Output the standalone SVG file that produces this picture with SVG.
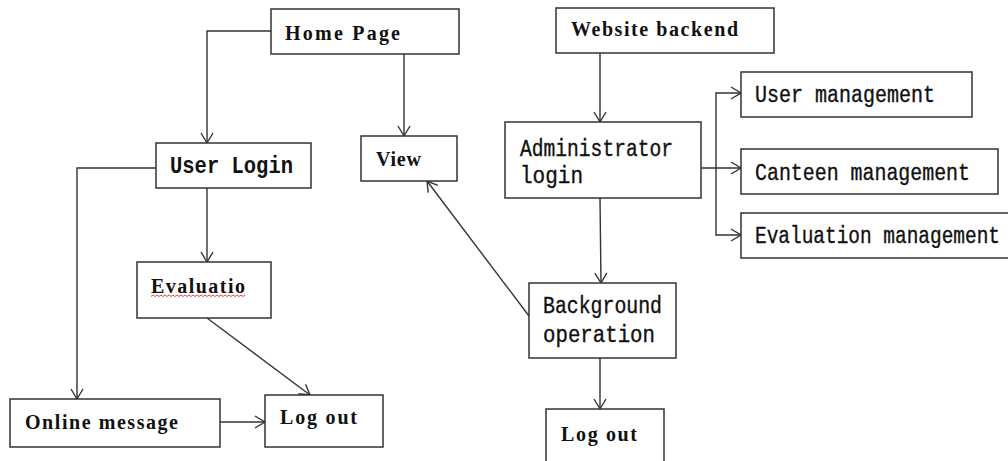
<svg xmlns="http://www.w3.org/2000/svg" width="1008" height="461" viewBox="0 0 1008 461">
<style>
.box{fill:#fff;stroke:#333;stroke-width:1.5}
.ser{font-family:"Liberation Serif","Times New Roman",serif;font-weight:bold;font-size:20px;fill:#111}
.mono{font-family:"Liberation Mono","Courier New",monospace;font-size:23px;fill:#111;stroke:#111;stroke-width:0.35}
.b{font-weight:bold;stroke-width:0}
.con path{fill:none;stroke:#333;stroke-width:1.4}
</style>
<defs>
<marker id="arr" markerUnits="userSpaceOnUse" markerWidth="14" markerHeight="14" viewBox="-11 -7 12 14" refX="0" refY="0" orient="auto">
<path d="M-10,-6 L0,0 L-10,6" fill="none" stroke="#333" stroke-width="1.4"/>
</marker>
</defs>
<rect width="1008" height="461" fill="#fff"/>
<g class="con">
<path d="M271,31 H207 V143" marker-end="url(#arr)"/>
<path d="M404,54 V136" marker-end="url(#arr)"/>
<path d="M156,168 H77 V399" marker-end="url(#arr)"/>
<path d="M207,188 V262" marker-end="url(#arr)"/>
<path d="M207,318 L310,395" marker-end="url(#arr)"/>
<path d="M220,422 H265" marker-end="url(#arr)"/>
<path d="M600,53 V122" marker-end="url(#arr)"/>
<path d="M701,168 H741" marker-end="url(#arr)"/>
<path d="M716,168 V93 H741" marker-end="url(#arr)"/>
<path d="M716,168 V235 H741" marker-end="url(#arr)"/>
<path d="M600,198 L601,283" marker-end="url(#arr)"/>
<path d="M529,316 L427,181" marker-end="url(#arr)"/>
<path d="M600,358 V409" marker-end="url(#arr)"/>
</g>
<g id="home">
<rect class="box" x="271" y="9" width="188" height="45"/>
<text class="ser" x="285" y="40" textLength="115" lengthAdjust="spacing">Home Page</text>
</g>
<g id="userlogin">
<rect class="box" x="156" y="143" width="155" height="45"/>
<text class="mono b" x="170" y="173" textLength="123" lengthAdjust="spacingAndGlyphs">User Login</text>
</g>
<g id="view">
<rect class="box" x="361" y="136" width="96" height="45"/>
<text class="ser" x="376" y="166" textLength="45" lengthAdjust="spacing">View</text>
</g>
<g id="evaluatio">
<rect class="box" x="137" y="262" width="134" height="56"/>
<text class="ser" x="151" y="293" textLength="94" lengthAdjust="spacing">Evaluatio</text>
<path d="M151,296.5 l2,-1.5 l2,1.5 l2,-1.5 l2,1.5 l2,-1.5 l2,1.5 l2,-1.5 l2,1.5 l2,-1.5 l2,1.5 l2,-1.5 l2,1.5 l2,-1.5 l2,1.5 l2,-1.5 l2,1.5 l2,-1.5 l2,1.5 l2,-1.5 l2,1.5 l2,-1.5 l2,1.5 l2,-1.5 l2,1.5 l2,-1.5 l2,1.5 l2,-1.5 l2,1.5 l2,-1.5 l2,1.5 l2,-1.5 l2,1.5 l2,-1.5 l2,1.5 l2,-1.5 l2,1.5 l2,-1.5 l2,1.5 l2,-1.5 l2,1.5 l2,-1.5 l2,1.5 l2,-1.5 l2,1.5 l2,-1.5 l2,1.5 l2,-1.5" fill="none" stroke="#e03030" stroke-width="0.9"/>
</g>
<g id="online">
<rect class="box" x="10" y="399" width="210" height="48"/>
<text class="ser" x="25" y="429" textLength="153" lengthAdjust="spacing">Online message</text>
</g>
<g id="logout1">
<rect class="box" x="265" y="395" width="118" height="52"/>
<text class="ser" x="280" y="424" textLength="77" lengthAdjust="spacing">Log out</text>
</g>
<g id="backend">
<rect class="box" x="556" y="8" width="218" height="45"/>
<text class="ser" x="571" y="36" textLength="167" lengthAdjust="spacing">Website backend</text>
</g>
<g id="admin">
<rect class="box" x="505" y="122" width="196" height="76"/>
<text class="mono" x="520" y="156" textLength="153" lengthAdjust="spacingAndGlyphs">Administrator</text>
<text class="mono" x="520" y="183" textLength="63" lengthAdjust="spacingAndGlyphs">login</text>
</g>
<g id="usermgmt">
<rect class="box" x="741" y="72" width="231" height="45"/>
<text class="mono" x="755" y="102" textLength="180" lengthAdjust="spacingAndGlyphs">User management</text>
</g>
<g id="canteen">
<rect class="box" x="741" y="149" width="257" height="45"/>
<text class="mono" x="755" y="180" textLength="215" lengthAdjust="spacingAndGlyphs">Canteen management</text>
</g>
<g id="evalmgmt">
<rect class="box" x="741" y="213" width="268" height="45"/>
<text class="mono" x="755" y="243" textLength="245" lengthAdjust="spacingAndGlyphs">Evaluation management</text>
</g>
<g id="background">
<rect class="box" x="529" y="283" width="147" height="75"/>
<text class="mono" x="543" y="313" textLength="119" lengthAdjust="spacingAndGlyphs">Background</text>
<text class="mono" x="543" y="342" textLength="112" lengthAdjust="spacingAndGlyphs">operation</text>
</g>
<g id="logout2">
<rect class="box" x="546" y="409" width="118" height="60"/>
<text class="ser" x="561" y="441" textLength="76" lengthAdjust="spacing">Log out</text>
</g>
</svg>
